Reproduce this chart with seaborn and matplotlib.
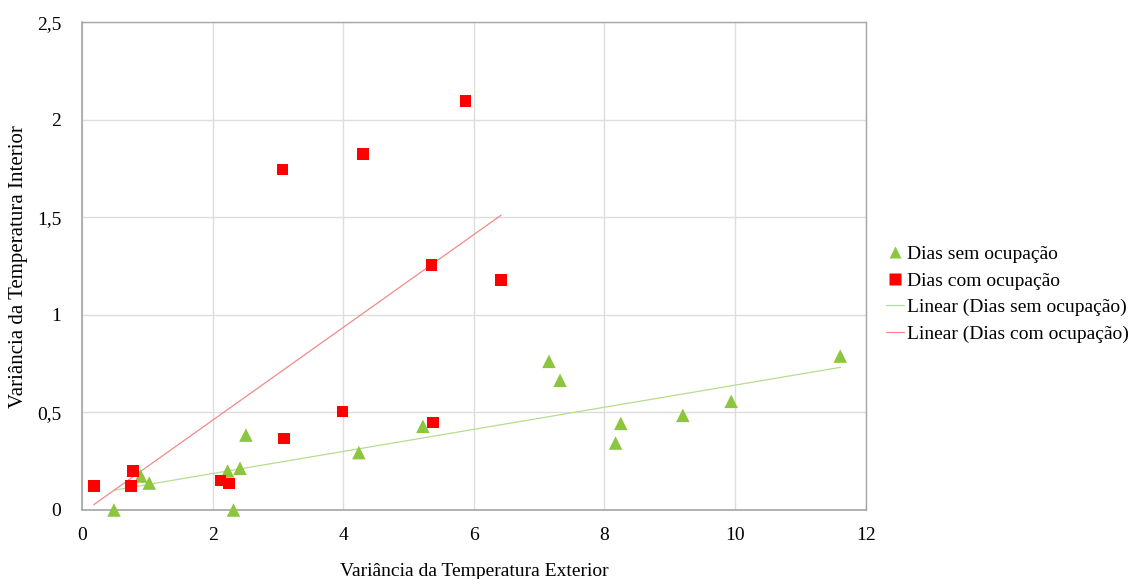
import numpy as np
import pandas as pd
import matplotlib
matplotlib.use("Agg")
import matplotlib.pyplot as plt
from matplotlib.ticker import FuncFormatter
from matplotlib.lines import Line2D
import seaborn as sns

# Days without occupancy
sem_x = [0.49, 0.90, 1.03, 2.23, 2.42, 2.51, 2.32, 4.24, 5.22, 7.15, 7.32, 8.17, 8.25, 9.20, 9.94, 11.61]
sem_y = [0.00, 0.174, 0.138, 0.200, 0.214, 0.384, 0.00, 0.294, 0.429, 0.762, 0.665, 0.343, 0.444, 0.485, 0.557, 0.789]

# Days with occupancy
com_x = [0.18, 0.78, 0.75, 2.12, 2.25, 3.09, 3.99, 5.37, 5.35, 6.42, 3.07, 4.30, 5.87]
com_y = [0.123, 0.200, 0.123, 0.152, 0.135, 0.366, 0.504, 0.448, 1.256, 1.180, 1.746, 1.825, 2.096]

label_sem = "Dias sem ocupação"
label_com = "Dias com ocupação"
x_ticks = [0, 2, 4, 6, 8, 10, 12]
y_ticks = [0, 0.5, 1, 1.5, 2, 2.5]

green = "#8CC63F"
red = "#FF0000"
green_line = "#B7DC8E"
red_line = "#F08A8A"

sns.set_style("white")
plt.rcParams["font.family"] = ["Liberation Serif", "DejaVu Serif"]
plt.rcParams["text.color"] = "black"
plt.rcParams["axes.labelcolor"] = "black"

df_sem = pd.DataFrame({"x": sem_x, "y": sem_y})
df_com = pd.DataFrame({"x": com_x, "y": com_y})

fig = plt.figure(figsize=(11.29, 5.79), dpi=100)
ax = fig.add_axes([0.0726, 0.1192, 0.6942, 0.8423])

# Linear trend lines over each series' data range
sns.regplot(data=df_sem, x="x", y="y", scatter=False, ci=None, truncate=True,
            color=green_line, line_kws={"linewidth": 0.9}, ax=ax)
sns.regplot(data=df_com, x="x", y="y", scatter=False, ci=None, truncate=True,
            color=red_line, line_kws={"linewidth": 0.9}, ax=ax)

sns.scatterplot(data=df_sem, x="x", y="y", marker="^", s=95, color=green,
                edgecolor="none", ax=ax, zorder=3, clip_on=False)
sns.scatterplot(data=df_com, x="x", y="y", marker="s", s=70, color=red,
                edgecolor="none", ax=ax, zorder=3, clip_on=False)

ax.set_xlim(0, 12)
ax.set_ylim(0, 2.5)
ax.set_xticks(x_ticks)
ax.set_yticks(y_ticks)
comma = FuncFormatter(lambda v, p: f"{v:g}".replace(".", ","))
ax.xaxis.set_major_formatter(comma)
ax.yaxis.set_major_formatter(comma)
ax.tick_params(axis="both", length=0, labelsize=14, labelcolor="black")
ax.tick_params(axis="x", pad=12)
ax.tick_params(axis="y", pad=15)

ax.grid(True, color="#DDDDDD", linewidth=1.0)
ax.set_axisbelow(True)
for side in ["left", "bottom"]:
    ax.spines[side].set_color("#A6A6A6")
    ax.spines[side].set_linewidth(1.2)
for side in ["top", "right"]:
    ax.spines[side].set_color("#A6A6A6")
    ax.spines[side].set_linewidth(1.0)

ax.set_xlabel("Variância da Temperatura Exterior", fontsize=14, labelpad=14, color="black")
ax.set_ylabel("Variância da Temperatura Interior", fontsize=15, color="black")
ax.yaxis.set_label_coords(-0.069, 0.5)

handles = [
    Line2D([], [], linestyle="none", marker="^", markersize=9, color=green, markeredgecolor="none"),
    Line2D([], [], linestyle="none", marker="s", markersize=8, color=red, markeredgecolor="none"),
    Line2D([], [], color=green_line, linewidth=0.9),
    Line2D([], [], color=red_line, linewidth=0.9),
]
labels = [label_sem, label_com, "Linear (" + label_sem + ")", "Linear (" + label_com + ")"]
leg = fig.legend(handles, labels, loc="center left", bbox_to_anchor=(0.778, 0.492),
                 frameon=False, fontsize=14, handlelength=0.9, handletextpad=0.15,
                 labelspacing=0.47, borderaxespad=0)
for t in leg.get_texts():
    t.set_color("black")

fig.savefig("out.png", dpi=100)
